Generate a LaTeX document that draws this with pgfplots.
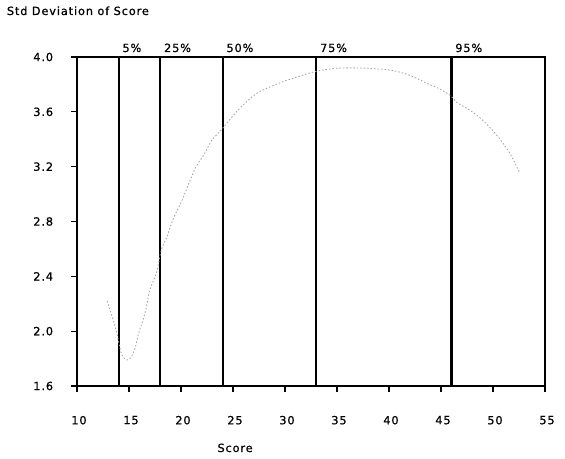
\documentclass[border=0pt]{standalone}
\usepackage{fontspec}
\setmainfont{DejaVu Sans}[LetterSpace=8, FakeBold=0.8]
\usepackage{pgfplots}
\pgfplotsset{compat=1.18}

\begin{document}
\fontsize{11.3}{13}\selectfont
\begin{tikzpicture}
\begin{axis}[
  scale only axis,
  width=468bp, height=329bp,
  xmin=10, xmax=55, ymin=1.6, ymax=4.0,
  xtick={10,15,...,55},
  ytick={1.6,2.0,2.4,2.8,3.2,3.6,4.0},
  yticklabel style={/pgf/number format/fixed, /pgf/number format/fixed zerofill, /pgf/number format/precision=1, xshift=-14bp},
  /pgf/number format/assume math mode=true,
  tick align=outside,
  major tick length=6bp,
  xtick pos=bottom, ytick pos=left,
  axis line style={line width=1.2pt},
  tick style={line width=1.2pt,black},
  xticklabel style={yshift=-20bp, xshift=2bp},
  clip=false,
]
% percentile markers
\addplot[black, line width=2.2pt] coordinates {(14,1.6) (14,4.0)};
\addplot[black, line width=2.2pt] coordinates {(18,1.6) (18,4.0)};
\addplot[black, line width=2.2pt] coordinates {(24,1.6) (24,4.0)};
\addplot[black, line width=2.2pt] coordinates {(33,1.6) (33,4.0)};
\addplot[black, line width=2.2pt] coordinates {(46,1.6) (46,4.0)};
\node[anchor=base west] at (axis cs:14,4.0) [yshift=5bp] {5\%};
\node[anchor=base west] at (axis cs:18,4.0) [yshift=5bp] {25\%};
\node[anchor=base west] at (axis cs:24,4.0) [yshift=5bp] {50\%};
\node[anchor=base west] at (axis cs:33,4.0) [yshift=5bp] {75\%};
\node[anchor=base west] at (axis cs:46,4.0) [yshift=5bp] {95\%};
% standard deviation curve
\addplot[gray!75, dash pattern=on 1.5pt off 2pt, line width=0.8pt, smooth] coordinates {
  (12.9,2.22) (13.65,2.04) (13.9,1.96) (14.3,1.83) (14.8,1.79) (15.2,1.81)
  (15.6,1.88) (15.9,1.98) (16.25,2.06) (16.6,2.15) (17.0,2.30) (17.66,2.43)
  (18.1,2.59) (18.6,2.68) (19.26,2.82) (20.07,2.95) (20.87,3.10) (21.45,3.20)
  (22.15,3.28) (22.95,3.39) (23.9,3.47) (24.55,3.53) (25.7,3.63) (27.4,3.74)
  (29.8,3.82) (31.4,3.86) (32.7,3.89) (34,3.91) (35.5,3.92) (37.2,3.92)
  (38.5,3.915) (40.1,3.905) (41.5,3.88) (42.5,3.85) (43.6,3.81) (44.8,3.77)
  (45.9,3.72) (46.5,3.67) (47.8,3.61) (49.0,3.54) (50.35,3.43) (51.6,3.30)
  (52.6,3.15)
};
\node[anchor=base] at (axis cs:25.2,1.6) [yshift=-66bp] {Score};
\end{axis}
\node[anchor=base west] at (current axis.north west) [xshift=-74bp, yshift=42bp] {Std Deviation of Score};
\pgfresetboundingbox
\path[use as bounding box] (current axis.south west) ++(-77bp,-73bp) rectangle ([xshift=20bp,yshift=57bp]current axis.north east);
\end{tikzpicture}
\end{document}
